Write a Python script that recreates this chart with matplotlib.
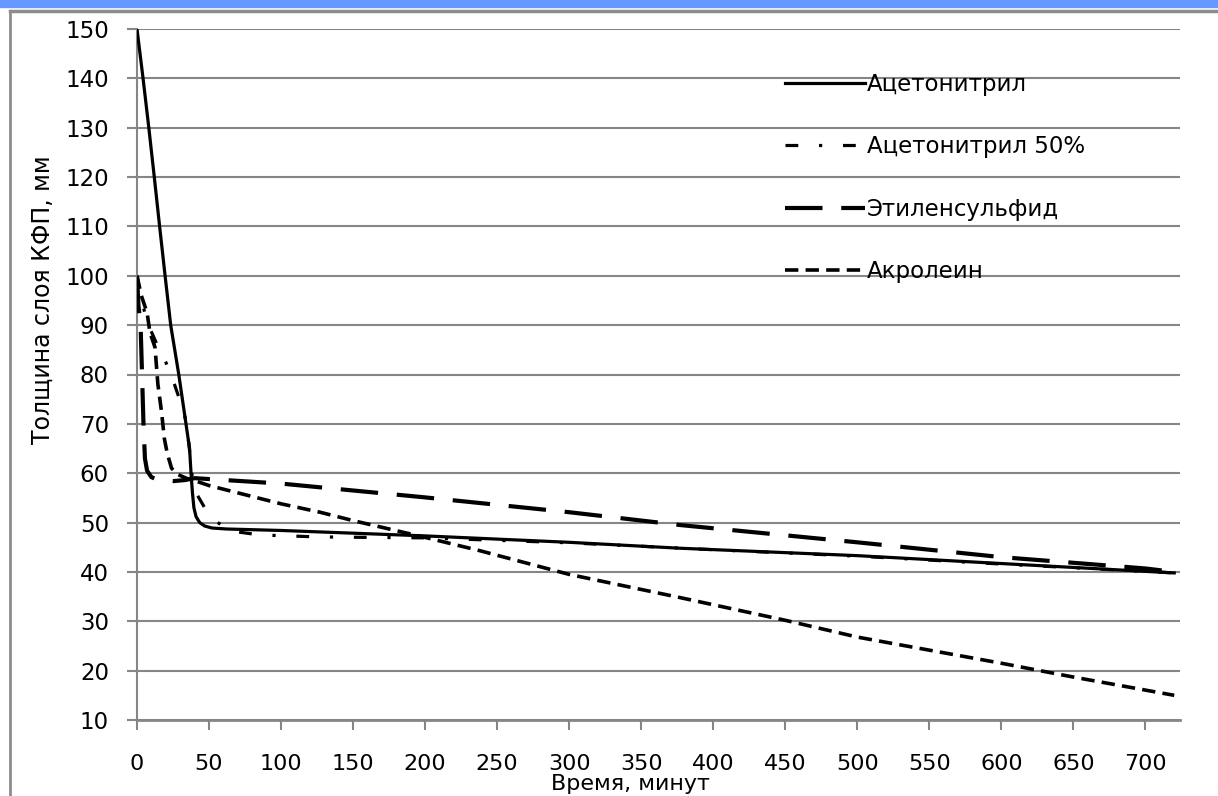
import matplotlib
matplotlib.use("Agg")
import matplotlib.pyplot as plt
from matplotlib.patches import Rectangle
from matplotlib.lines import Line2D

plt.rcParams['font.family'] = ['DejaVu Sans']

# ---- data ----
t_acn = [0, 4.2, 8.2, 12, 15.7, 19.5, 23.4, 29, 34, 36.5, 37.5, 38.5, 39.5, 41, 43.5, 47, 52, 62, 100, 200, 300, 377, 500, 600, 720]
v_acn = [150, 140, 130, 120, 110, 100, 90, 80, 70, 65, 60, 56, 53, 51.2, 50.0, 49.3, 48.9, 48.7, 48.4, 47.3, 46.0, 44.8, 43.3, 41.7, 39.8]

t_acn50 = [0, 3, 8, 14, 20, 26, 33, 36, 38, 41, 47, 55, 65, 85, 125, 160, 200, 300, 400, 500, 600, 720]
v_acn50 = [100, 95, 90, 86, 82.5, 78, 72, 66, 60, 56, 53, 50.2, 48.3, 47.5, 47.1, 47.0, 46.9, 45.9, 44.5, 43.2, 41.6, 39.8]

t_eth = [0, 1, 2.5, 3.5, 4.5, 5.5, 7, 10, 15, 25, 33, 40, 100, 200, 300, 377, 500, 600, 700, 720]
v_eth = [100, 94, 90, 80, 70, 63, 60.5, 59.2, 58.6, 58.4, 58.6, 59, 57.9, 55.1, 52.1, 49.5, 46, 43, 40.7, 40]

t_acr = [0, 3, 7, 9, 12.5, 14.5, 17, 19, 21, 24, 28, 34, 40, 50, 100, 127, 150, 200, 238, 300, 377, 450, 500, 600, 650, 720]
v_acr = [100, 96, 92.5, 88.5, 85.5, 78, 72.5, 67, 64, 61, 59.8, 59, 58.5, 57.5, 53.8, 52.1, 50.4, 47, 44.3, 39.5, 34.8, 30.2, 26.8, 21.5, 18.7, 15]

labels = ["Ацетонитрил", "Ацетонитрил 50%", "Этиленсульфид", "Акролеин"]
x_ticks = list(range(0, 701, 50))
y_ticks = list(range(10, 151, 10))
x_label = "Время, минут"
y_label = "Толщина слоя КФП, мм"

W, H = 1218, 796
fig = plt.figure(figsize=(W / 100, H / 100), dpi=100)
fig.patch.set_facecolor('white')

# frame decorations
fig.patches.append(Rectangle((0, 1 - 7 / H), 1, 7 / H, transform=fig.transFigure,
                             color='#6699ff', zorder=0))
fig.lines.append(Line2D([9.5 / W, 9.5 / W], [0, 1 - 11 / H], transform=fig.transFigure,
                        color='#8c8c8c', lw=2))
fig.lines.append(Line2D([9.5 / W, 1], [1 - 11 / H, 1 - 11 / H], transform=fig.transFigure,
                        color='#8c8c8c', lw=2.5))

ax = fig.add_axes([137 / W, (H - 720) / H, (1180 - 137) / W, (720 - 29) / H])
ax.set_xlim(0, 724)
ax.set_ylim(10, 150)

ax.plot(t_acr, v_acr, color='black', lw=2.6, dashes=(3.7, 2.0), label=labels[3], zorder=3)
ax.plot(t_eth, v_eth, color='black', lw=3.0, dashes=(9, 4.5), label=labels[2], zorder=3)
ax.plot(t_acn50, v_acn50, color='black', lw=2.3, dashes=(4, 6.5, 1, 6.5), label=labels[1], zorder=3)
ax.plot(t_acn, v_acn, color='black', lw=2.3, label=labels[0], zorder=4)

ax.set_xticks(x_ticks)
ax.set_yticks(y_ticks)
ax.yaxis.grid(True, color='#868686', lw=1.5)
ax.set_axisbelow(True)
for s in ['top', 'right']:
    ax.spines[s].set_visible(False)
ax.spines['left'].set_color('#868686')
ax.spines['left'].set_linewidth(1.5)
ax.spines['bottom'].set_color('#868686')
ax.spines['bottom'].set_linewidth(2)

ax.tick_params(axis='y', direction='out', length=7.2, width=1.5, color='#868686',
               pad=13, labelsize=16.5)
ax.tick_params(axis='x', direction='out', length=7.5, width=1.5, color='#868686',
               pad=17, labelsize=16)

fig.text(630 / W, 1 - 784 / H, x_label, ha='center', va='center', fontsize=16)
fig.text(43 / W, 1 - 300 / H, y_label, ha='center', va='center', fontsize=17, rotation=90)

h, l = ax.get_legend_handles_labels()
order = [3, 2, 1, 0]
ax.legend([h[i] for i in order], [l[i] for i in order], loc='upper left',
          bbox_to_anchor=(785 / W, 1 - 73 / H), bbox_transform=fig.transFigure,
          frameon=False, fontsize=16.5, handlelength=80 / 23, handletextpad=0.1,
          labelspacing=1.72, borderpad=0, borderaxespad=0)

fig.savefig('out.png', dpi=100)
